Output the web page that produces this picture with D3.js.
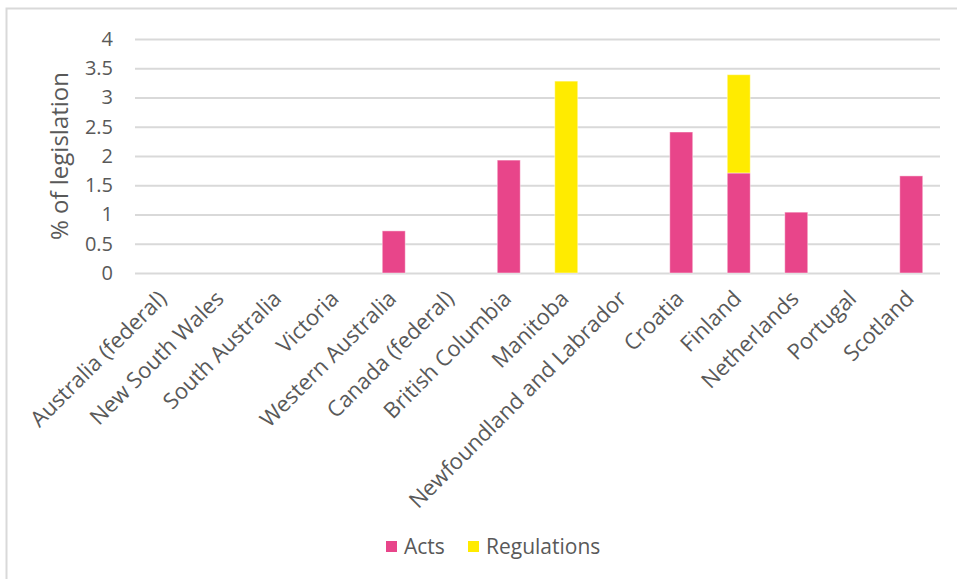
<!DOCTYPE html>
<html><head><meta charset="utf-8">
<script src="https://cdn.jsdelivr.net/npm/d3@7/dist/d3.min.js"></script>
<style>body{margin:0;background:#fff}svg{display:block}</style>
</head><body><svg id="c" width="957" height="579"></svg>
<script>
const categories = ["Australia (federal)","New South Wales","South Australia","Victoria","Western Australia","Canada (federal)","British Columbia","Manitoba","Newfoundland and Labrador","Croatia","Finland","Netherlands","Portugal","Scotland"];
const acts =        [0,0,0,0,0.72,0,1.93,0,0,2.41,1.71,1.04,0,1.66];
const regulations = [0,0,0,0,0,0,0,3.28,0,0,1.68,0,0,0];
const yTicks = [0,0.5,1,1.5,2,2.5,3,3.5,4];
const seriesNames = ["Acts","Regulations"];
const colors = ["#E8458A","#FFEB00"];

const svg = d3.select("#c");
const font = "'Open Sans', sans-serif";
const txt = "#595959";
const L = 135, R = 940, T = 39, B = 273;

svg.append("rect").attr("x",6.5).attr("y",8.5).attr("width",1000).attr("height",1000)
  .attr("fill","none").attr("stroke","#d9d9d9").attr("stroke-width",2);

const x = d3.scaleBand().domain(categories).range([L,R]).paddingInner(0.6).paddingOuter(0.3);
const y = d3.scaleLinear().domain([0,4]).range([B,T]);

const gy = svg.append("g").attr("transform",`translate(${L},0)`)
  .call(d3.axisLeft(y).tickValues(yTicks).tickSize(-(R-L)).tickPadding(22).tickFormat(d3.format("")));
gy.select(".domain").remove();
gy.selectAll(".tick line").attr("stroke","#d9d9d9").attr("stroke-width",2);
gy.selectAll(".tick text").attr("fill",txt).attr("font-family",font).attr("font-size",20);

const rows = categories.map((c,i)=>({cat:c, Acts:acts[i], Regulations:regulations[i]}));
const stack = d3.stack().keys(seriesNames)(rows);
svg.append("g").selectAll("g").data(stack).join("g").attr("fill",(d,i)=>colors[i])
  .selectAll("rect").data(d=>d.filter(p=>p[1]-p[0]>0)).join("rect")
  .attr("x",d=>x(d.data.cat)).attr("width",x.bandwidth())
  .attr("y",d=>y(d[1])).attr("height",d=>y(d[0])-y(d[1]))
  .attr("stroke","rgba(255,255,255,0.45)").attr("stroke-width",1);

const gx = svg.append("g").attr("transform",`translate(0,${B})`)
  .call(d3.axisBottom(x).tickSize(0).tickPadding(0));
gx.select(".domain").remove();
gx.selectAll(".tick text").attr("fill",txt).attr("font-family",font).attr("font-size",22)
  .attr("text-anchor","end").attr("dy",0)
  .attr("transform","translate(4,27) rotate(-45)");

svg.append("text").attr("transform",`translate(68,${(T+B)/2}) rotate(-90)`)
  .attr("text-anchor","middle").attr("fill",txt).attr("font-family",font).attr("font-size",24)
  .text("% of legislation");

const lg = svg.append("g").attr("transform","translate(386,547)");
const lx = [0, 82];
seriesNames.forEach((s,i)=>{
  lg.append("rect").attr("x",lx[i]).attr("y",-6).attr("width",11).attr("height",11).attr("fill",colors[i]);
  lg.append("text").attr("x",lx[i]+18).attr("y",0).attr("dy","0.35em").attr("fill",txt)
    .attr("font-family",font).attr("font-size",21).text(s);
});
</script></body></html>
